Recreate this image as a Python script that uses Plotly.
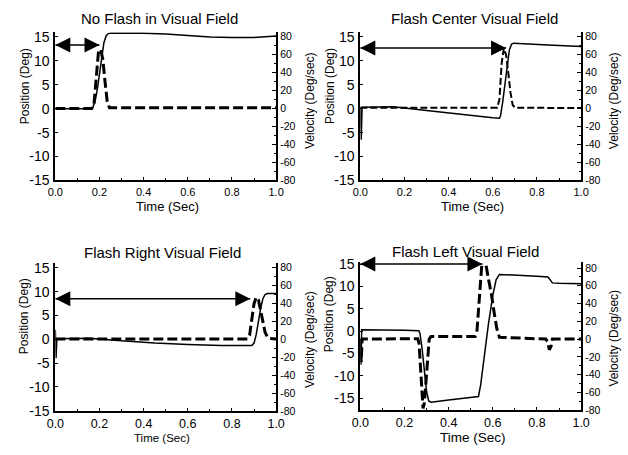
import plotly.graph_objects as go

W, H = 628, 455

titles = ["No Flash in Visual Field", "Flash Center Visual Field",
          "Flash Right Visual Field", "Flash Left Visual Field"]

# ---- Panel 1: No flash ----
t1_pos = [0, 0.16, 0.17, 0.18, 0.19, 0.2, 0.21, 0.22, 0.23, 0.24, 0.25, 0.4, 0.5, 0.6, 0.7, 0.8, 0.9, 1.0]
p1_pos = [0, 0, 0.3, 1.5, 4, 7.5, 11, 13.8, 15.2, 15.7, 15.8, 15.8, 15.6, 15.3, 15.0, 14.9, 14.9, 15.2]
t1_vel = [0, 0.165, 0.175, 0.185, 0.195, 0.205, 0.215, 0.225, 0.235, 0.245, 1.0]
v1_vel = [0, 0, 5, 35, 62, 66, 55, 30, 8, 1, 1]

# ---- Panel 2: Flash center ----
t2_pos = [0, 0.004, 0.008, 0.15, 0.3, 0.45, 0.6, 0.63, 0.635, 0.645, 0.655, 0.665, 0.675, 0.685, 0.695, 0.85, 1.0]
p2_pos = [0.3, -6.5, 0.3, 0.4, -0.4, -1.2, -1.9, -2.0, -1.5, 1.5, 5.5, 9.5, 12.3, 13.5, 13.7, 13.3, 13.0]
t2_vel = [0, 0.62, 0.63, 0.64, 0.65, 0.66, 0.67, 0.68, 0.69, 0.7, 1.0]
v2_vel = [1, 1, 10, 50, 67, 60, 40, 18, 4, 1, 0.5]

# ---- Panel 3: Flash right ----
t3_pos = [0, 0.003, 0.007, 0.15, 0.3, 0.45, 0.6, 0.75, 0.89, 0.9, 0.91, 0.92, 0.93, 0.94, 0.95, 0.96, 1.0]
p3_pos = [2, -4, 0.1, 0.2, -0.3, -0.8, -1.1, -1.3, -1.3, -0.8, 1, 4, 6.5, 8.5, 9.4, 9.6, 9.6]
t3_vel = [0, 0.87, 0.88, 0.89, 0.9, 0.91, 0.92, 0.93, 0.94, 0.95, 0.96, 0.97, 1.0]
v3_vel = [0.5, 0.5, 5, 20, 40, 47, 44, 32, 18, 8, 3, 1, 0.5]

# ---- Panel 4: Flash left ----
t4_pos = [0, 0.003, 0.006, 0.1, 0.2, 0.265, 0.27, 0.28, 0.29, 0.3, 0.31, 0.32, 0.4, 0.5, 0.535,
          0.545, 0.56, 0.58, 0.6, 0.615, 0.63, 0.7, 0.8, 0.85, 0.86, 0.87, 0.9, 1.0]
p4_pos = [-1.7, -7.5, 0.3, 0.3, 0.2, 0.1, -0.5, -4, -9, -13.5, -15.6, -15.9, -15.4, -14.8, -14.6,
          -12, -6, 1.5, 8, 11.5, 12.7, 12.6, 12.3, 12.1, 11.5, 10.8, 10.7, 10.6]
t4_vel = [0, 0.004, 0.008, 0.26, 0.266, 0.272, 0.278, 0.284, 0.29, 0.297, 0.305, 0.312, 0.32,
          0.52, 0.528, 0.536, 0.544, 0.552, 0.56, 0.568, 0.58, 0.594, 0.606, 0.618, 0.63,
          0.84, 0.848, 0.856, 0.864, 0.87, 1.0]
v4_vel = [0, -26, 0, 0.5, -5, -30, -62, -78, -72, -45, -15, 0, 3,
          3, 8, 35, 70, 90, 92, 85, 68, 50, 30, 12, 2,
          0, -3, -12, -8, 0, 0]

pos_t = [t1_pos, t2_pos, t3_pos, t4_pos]
pos_v = [p1_pos, p2_pos, p3_pos, p4_pos]
vel_t = [t1_vel, t2_vel, t3_vel, t4_vel]
vel_v = [v1_vel, v2_vel, v3_vel, v4_vel]

# latency arrows: from time 0 to saccade onset, at a position level
arrow_end = [0.2, 0.66, 0.883, 0.553]
arrow_y = [13.3, 12.7, 8.5, 15.0]

pos_ticks = [-15, -10, -5, 0, 5, 10, 15]
pos_ticklabels = ["-15", "-10", "-5", "0", "5", "10", "15"]
vel_ticks = [-80, -60, -40, -20, 0, 20, 40, 60, 80]
vel_ticklabels = ["-80", "-60", "-40", "-20", "0", "20", "40", "60", "80"]
time_ticks = [0, 0.2, 0.4, 0.6, 0.8, 1.0]
time_ticklabels = ["0.0", "0.2", "0.4", "0.6", "0.8", "1.0"]

pos_ranges = [[-15, 16], [-15, 16], [-15.1, 16.1], [-17.67, 15.5]]
vel_ranges = [[-80, 85], [-80, 85], [-80, 85.7], [-80, 86.9]]

# layout (pixels): left, right, top, bottom of each plot area
panel_px = [(47.7, 275, 27, 180), (361.7, 589, 27, 180),
            (47.7, 275, 264.7, 418), (361.7, 589, 264, 417)]
title_px = [(155, 13), (479, 13), (158, 254.5), (470, 253)]
ylab_px = [(16.7, 82.5), (330.5, 82.5), (15.5, 320), (329, 318.5)]
y2lab_px = [(310, 98), (623, 98), (310, 344.5), (623, 343)]
xlab_px = [(163, 207), (477, 207), (157.5, 446), (478, 445)]
xlab_size = [13, 13, 11.5, 13.5]
xtick_size = [11, 11, 12.5, 12.5]
vel_width = [3, 2, 3, 3]
vel_dash = ["10px,4px", "7px,3px", "10px,4px", "10px,4px"]

FONT = "Liberation Sans, Arial, sans-serif"

def px(x):
    return x / W

def py(y):
    return 1 - y / H

fig = go.Figure()
layout = dict(width=W, height=H, margin=dict(l=0, r=0, t=0, b=0),
              paper_bgcolor="white", plot_bgcolor="white", showlegend=False,
              font=dict(family=FONT, color="black"))
annotations = []

for i in range(4):
    n = i + 1
    xa = "x" if n == 1 else f"x{n}"
    ya = "y" if n == 1 else f"y{2 * n - 1}"
    yb = f"y{2 * n}"
    l, r, t, b = panel_px[i]

    xkey = "xaxis" if n == 1 else f"xaxis{n}"
    ykey = "yaxis" if n == 1 else f"yaxis{2 * n - 1}"
    y2key = f"yaxis{2 * n}"

    layout[xkey] = dict(domain=[px(l), px(r)], range=[0, 1], anchor=ya,
                        showline=True, linecolor="black", linewidth=2,
                        showgrid=False, zeroline=False,
                        ticks="inside", ticklen=3, tickwidth=1, tickcolor="black",
                        tickvals=time_ticks, ticktext=time_ticklabels,
                        tickfont=dict(size=xtick_size[i], family=FONT),
                        minor=dict(dtick=0.1, ticks="inside", ticklen=2, tickcolor="black"))
    layout[ykey] = dict(domain=[py(b), py(t)], range=pos_ranges[i], anchor=xa,
                        showline=True, linecolor="black", linewidth=2,
                        showgrid=False, zeroline=False,
                        ticks="inside", ticklen=3, tickwidth=1, tickcolor="black",
                        tickvals=pos_ticks, ticktext=pos_ticklabels,
                        ticklabelstandoff=1,
                        tickfont=dict(size=14, family=FONT))
    layout[y2key] = dict(overlaying=ya, side="right", anchor=xa, range=vel_ranges[i],
                         showline=True, linecolor="black", linewidth=2,
                         showgrid=False, zeroline=False,
                         ticks="inside", ticklen=4, tickwidth=1, tickcolor="black",
                         tickvals=vel_ticks, ticktext=vel_ticklabels,
                         tickfont=dict(size=10.5, family=FONT),
                         minor=dict(dtick=10, ticks="inside", ticklen=2, tickcolor="black"))

    # velocity (dashed, right axis)
    fig.add_trace(go.Scatter(x=vel_t[i], y=vel_v[i], xaxis=xa, yaxis=yb, mode="lines",
                             line=dict(color="black", width=vel_width[i], dash=vel_dash[i])))
    # position (solid, left axis)
    fig.add_trace(go.Scatter(x=pos_t[i], y=pos_v[i], xaxis=xa, yaxis=ya, mode="lines",
                             line=dict(color="black", width=1.5)))
    # latency arrow
    fig.add_trace(go.Scatter(x=[0, arrow_end[i]], y=[arrow_y[i], arrow_y[i]], xaxis=xa, yaxis=ya,
                             mode="lines+markers", cliponaxis=False,
                             line=dict(color="black", width=1.5),
                             marker=dict(symbol=["arrow-left", "arrow-right"], size=15,
                                         color="black", line=dict(width=0))))

    tx, ty = title_px[i]
    annotations.append(dict(text=titles[i], x=px(tx), y=py(ty), xref="paper", yref="paper",
                            showarrow=False, xanchor="center", yanchor="middle",
                            font=dict(size=15, family=FONT)))
    lx, ly = ylab_px[i]
    annotations.append(dict(text="Position (Deg)", x=px(lx), y=py(ly), xref="paper", yref="paper",
                            showarrow=False, textangle=-90, xanchor="center", yanchor="middle",
                            font=dict(size=12, family=FONT)))
    rx, ry = y2lab_px[i]
    annotations.append(dict(text="Velocity (Deg/sec)", x=px(rx), y=py(ry), xref="paper", yref="paper",
                            showarrow=False, textangle=-90, xanchor="center", yanchor="middle",
                            font=dict(size=12, family=FONT)))
    bx, by = xlab_px[i]
    annotations.append(dict(text="Time (Sec)", x=px(bx), y=py(by), xref="paper", yref="paper",
                            showarrow=False, xanchor="center", yanchor="middle",
                            font=dict(size=xlab_size[i], family=FONT)))

layout["annotations"] = annotations
fig.update_layout(**layout)
fig.write_html("out.html", config={"displayModeBar": False},
               post_script="document.body.style.margin='0px';document.body.style.overflow='hidden';")
